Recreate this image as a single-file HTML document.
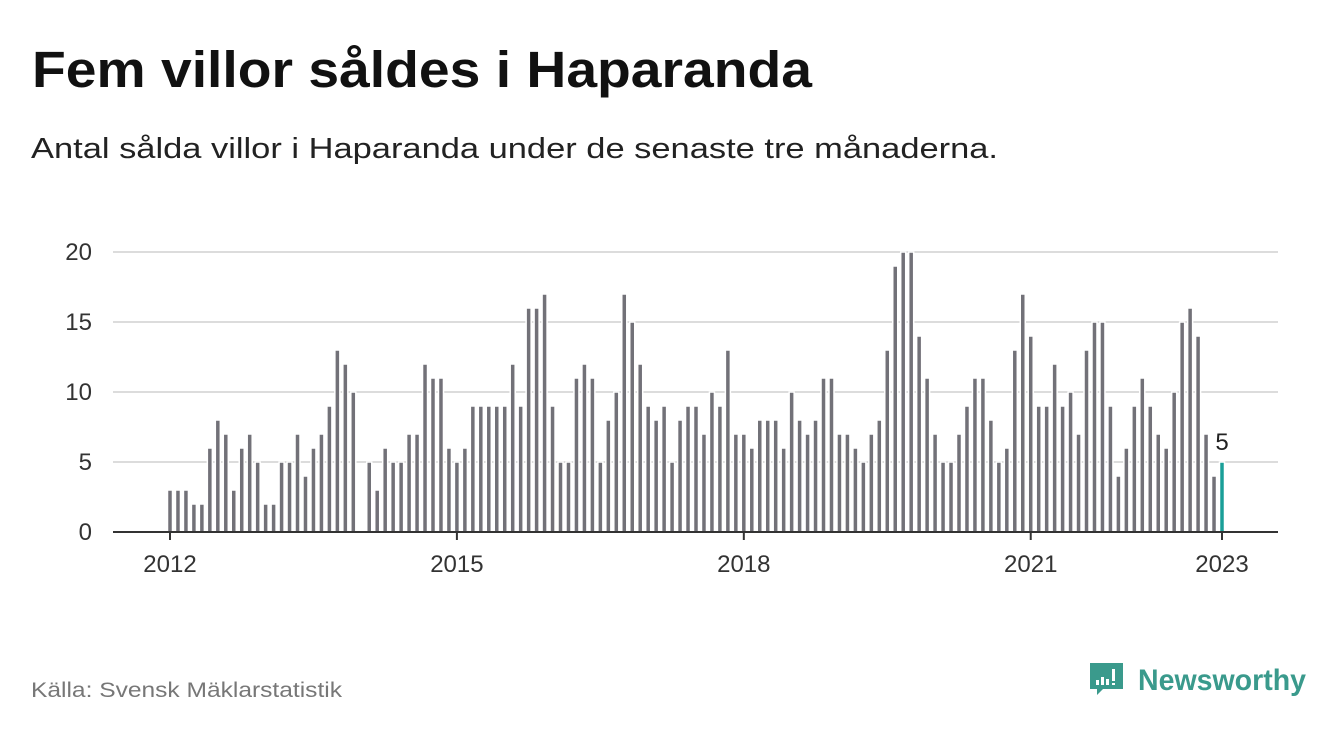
<!DOCTYPE html>
<html><head><meta charset="utf-8"><style>
body{margin:0;width:1340px;height:734px;background:#fff;font-family:"Liberation Sans","DejaVu Sans",sans-serif;overflow:hidden;position:relative}
svg{position:absolute;left:0;top:0}
</style></head><body>
<svg width="1340" height="734" font-family="Liberation Sans, sans-serif">
<text x="32" y="87" font-size="51" font-weight="bold" fill="#111" textLength="780" lengthAdjust="spacingAndGlyphs">Fem villor såldes i Haparanda</text>
<text x="31" y="158" font-size="29" fill="#222" textLength="967" lengthAdjust="spacingAndGlyphs">Antal sålda villor i Haparanda under de senaste tre månaderna.</text>
<text x="31" y="697" font-size="21" fill="#777" textLength="311" lengthAdjust="spacingAndGlyphs">Källa: Svensk Mäklarstatistik</text>
</svg>
<svg id="chart" width="1340" height="734"></svg>
<svg width="1340" height="734">
<path d="M1090 663 h33 v26 h-20 l-6 6 v-6 h-7 z" fill="#3a9a8c"/>
<rect x="1096" y="680" width="3" height="5" fill="#fff"/><rect x="1101" y="677" width="3" height="8" fill="#fff"/><rect x="1106" y="679" width="3" height="6" fill="#fff"/><rect x="1112" y="669" width="3" height="12" fill="#fff"/><rect x="1112" y="683" width="3" height="2" fill="#fff"/>
<text x="1138" y="690" font-size="30" font-weight="bold" fill="#3a9a8c" font-family="Liberation Sans, sans-serif" textLength="168" lengthAdjust="spacingAndGlyphs">Newsworthy</text>
</svg>
<script>
const yTicks=[0,5,10,15,20];
const xTickLabels=["2012","2015","2018","2021","2023"];
const xTickIndex=[0,36,72,108,132];
const values=[3,3,3,2,2,6,8,7,3,6,7,5,
2,2,5,5,7,4,6,7,9,13,12,10,
0,5,3,6,5,5,7,7,12,11,11,6,
5,6,9,9,9,9,9,12,9,16,16,17,
9,5,5,11,12,11,5,8,10,17,15,12,
9,8,9,5,8,9,9,7,10,9,13,7,
7,6,8,8,8,6,10,8,7,8,11,11,
7,7,6,5,7,8,13,19,20,20,14,11,
7,5,5,7,9,11,11,8,5,6,13,17,
14,9,9,12,9,10,7,13,15,15,9,4,
6,9,11,9,7,6,10,15,16,14,7,4,
5];
const svg=document.getElementById('chart');
const NS='http://www.w3.org/2000/svg';
const x=i=>170+i*(1222-170)/132;
const y=v=>532-v*14;
function mk(t,a){const e=document.createElementNS(NS,t);for(const k in a)e.setAttribute(k,a[k]);svg.appendChild(e);return e;}
yTicks.forEach(v=>{
 if(v>0){const l=mk('line',{x1:113,x2:1278,y1:y(v),y2:y(v),stroke:'#dcdcdc','stroke-width':2});
 
 }
 const t=mk('text',{x:92,y:y(v)+8,'text-anchor':'end','font-size':24,fill:'#333','font-family':'Liberation Sans, sans-serif'});t.textContent=v;
 
 
});
values.forEach((v,i)=>{
 if(v<=0)return;
 const last=i===values.length-1;
 const r=mk('rect',{x:x(i)-2.5,y:y(v),width:5,height:532-y(v),fill:last?'#1a9f98':'#727178',stroke:'#fff','stroke-width':1.5});
 
 
});
const ax=mk('line',{x1:113,x2:1278,y1:532,y2:532,stroke:'#333','stroke-width':2});


xTickLabels.forEach((lab,k)=>{
 const xi=x(xTickIndex[k]);
 const tk=mk('line',{x1:xi,x2:xi,y1:532,y2:540,stroke:'#333','stroke-width':2});
 
 
 const t=mk('text',{x:xi,y:572,'text-anchor':'middle','font-size':24,fill:'#333','font-family':'Liberation Sans, sans-serif'});t.textContent=lab;
 
 
});
const li=values.length-1;
const vl=mk('text',{x:x(li),y:y(values[li])-12,'text-anchor':'middle','font-size':24,fill:'#222','font-family':'Liberation Sans, sans-serif'});vl.textContent=values[li];


</script>
</body></html>
